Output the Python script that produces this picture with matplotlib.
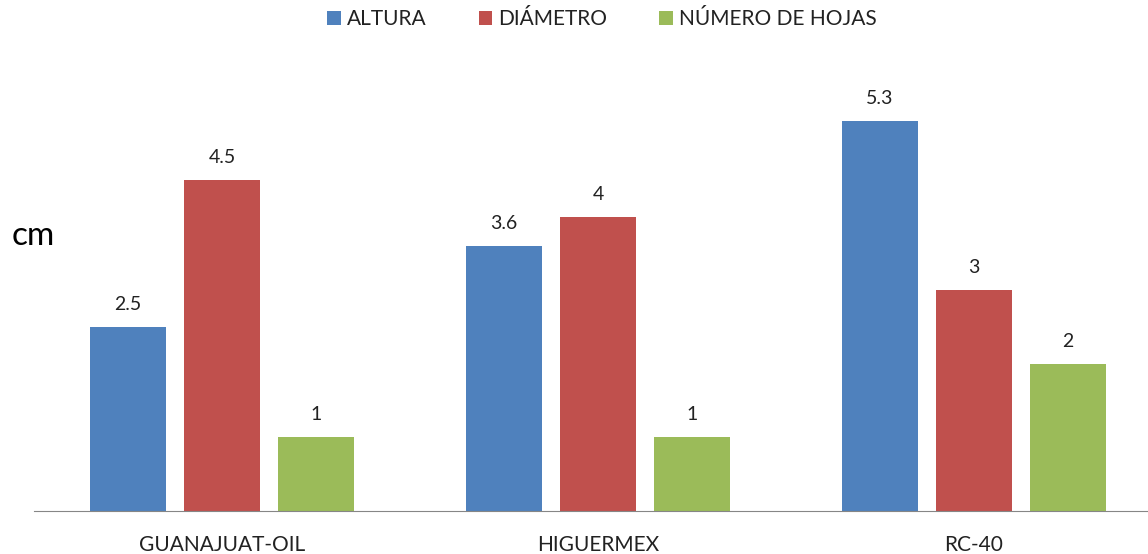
import numpy as np
import matplotlib.pyplot as plt

plt.rcParams['font.family'] = ['Lato', 'DejaVu Sans']

variedades = ["GUANAJUAT-OIL", "HIGUERMEX", "RC-40"]
altura = [2.5, 3.6, 5.3]
diametro = [4.5, 4, 3]
hojas = [1, 1, 2]
series = ["ALTURA", "DIÁMETRO", "NÚMERO DE HOJAS"]
colores = ["#4F81BD", "#C0504D", "#9BBB59"]

fig = plt.figure(figsize=(11.48, 5.54), dpi=100)
ax = fig.add_axes([34 / 1148, 43 / 554, 1114 / 1148, 441.6 / 554])

x = np.arange(len(variedades))
for i, (vals, nombre, col) in enumerate(zip([altura, diametro, hojas], series, colores)):
    bars = ax.bar(x + (i - 1) * 0.25, vals, width=0.2, color=col, label=nombre)
    for b, v in zip(bars, vals):
        ax.text(b.get_x() + b.get_width() / 2, v + 0.19, f"{v:g}",
                ha="center", va="bottom", fontsize=14, color="#222222")

ax.set_xlim(-0.5, 2.463)
ax.set_ylim(0, 6)
ax.set_xticks(x)
ax.set_xticklabels(variedades, fontsize=15, color="#222222")
ax.tick_params(axis="x", length=0, pad=17)
ax.set_yticks([])
for s in ["top", "right", "left"]:
    ax.spines[s].set_visible(False)
ax.spines["bottom"].set_color("#868686")

fig.text(12 / 1148, 1 - 236 / 554, "cm", fontsize=24, va="center", ha="left")

fig.legend(loc="center", bbox_to_anchor=(602 / 1148, 1 - 19 / 554), ncol=3,
           frameon=False, fontsize=15, handlelength=0.65, handleheight=0.65,
           handletextpad=0.3, columnspacing=2.5, labelcolor="#222222")

fig.savefig("out.png", dpi=100)
